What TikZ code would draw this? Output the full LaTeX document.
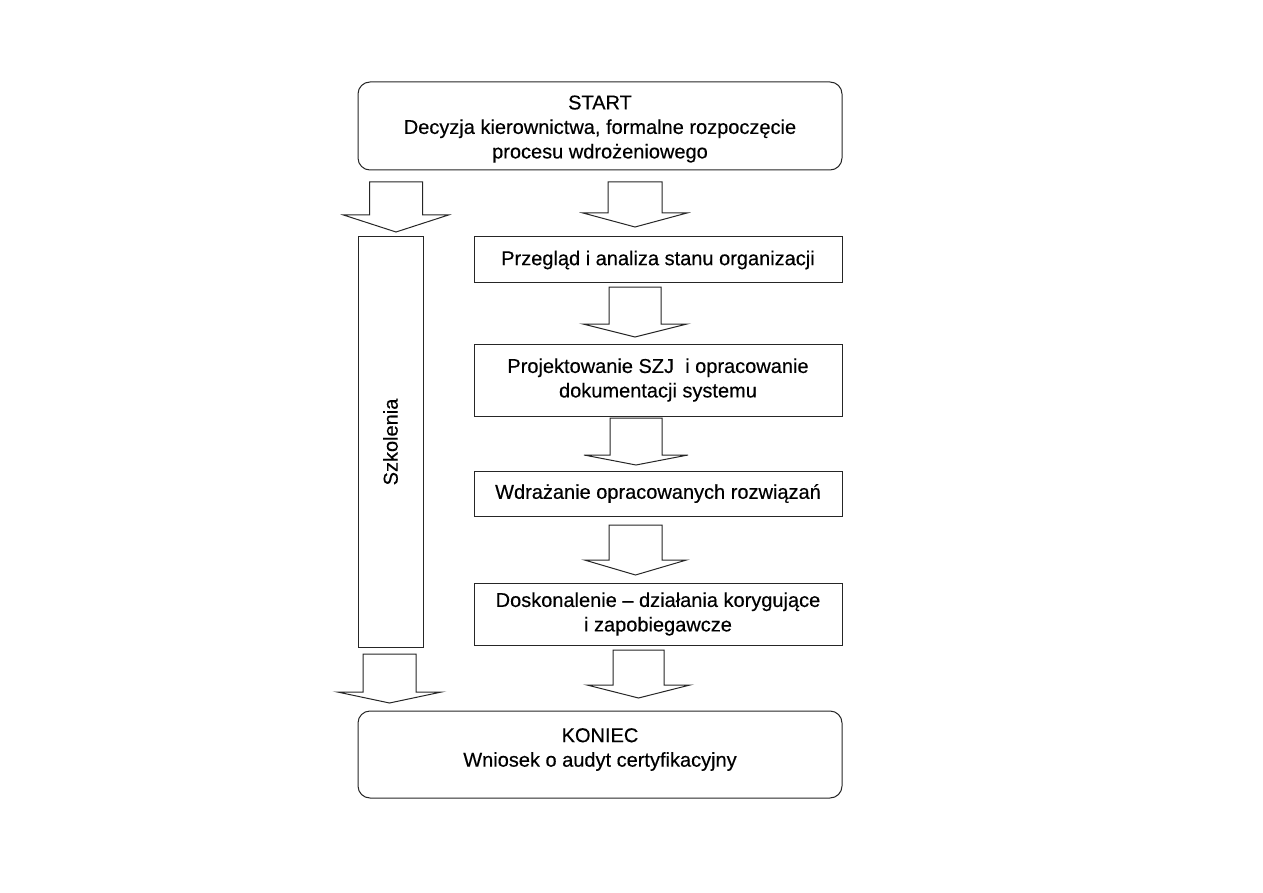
\documentclass[tikz,border=0pt]{standalone}
\usepackage{fontspec}
\setmainfont{Liberation Sans}[FakeBold=0.35, BoldFont=Liberation Sans]
\begin{document}
\begin{tikzpicture}[x=1pt,y=-1pt,
  every node/.style={font=\fontsize{20}{24.5}\selectfont\bfseries, align=center, inner sep=0pt},
  roundbox/.style={draw=black!85, line width=1pt, rounded corners=12pt, minimum width=484pt},
  stepbox/.style={draw=black!85, line width=1pt, minimum width=368pt},
  sidebox/.style={draw=black!85, line width=1pt, minimum width=65pt, minimum height=411pt},
  blockarrow/.style={draw=black!85, line width=1pt, fill=white, line join=miter}]
\useasboundingbox (0,0) rectangle (1263,893);
% boxes
\node[roundbox, minimum height=88pt] (start) at (600,126) {};
\node (starttext) at (600,129) {START\\Decyzja kierownictwa, formalne rozpoczęcie\\procesu wdrożeniowego};
\node[sidebox] (szk) at (390.5,442) {};
\node[rotate=90] (szktext) at (szk.center) {Szkolenia};
\node[stepbox, minimum height=46pt] (prz) at (658,260) {Przegląd i analiza stanu organizacji};
\node[stepbox, minimum height=72pt] (proj) at (658,380) {Projektowanie SZJ\ \ i opracowanie\\dokumentacji systemu};
\node[stepbox, minimum height=45pt] (wdr) at (658,493.5) {Wdrażanie opracowanych rozwiązań};
\node[stepbox, minimum height=62pt] (dosk) at (658,614) {Doskonalenie – działania korygujące\\i zapobiegawcze};
\node[roundbox, minimum height=87pt] (kon) at (600,754.5) {};
\node (kontext) at (600,749.5) {KONIEC\\Wniosek o audyt certyfikacyjny};
% block arrows: #1 centre x, #2 top y, #3 head y, #4 tip y, #5 shaft half width, #6 head half width
\newcommand\blockarr[6]{%
  \draw[blockarrow] (#1-#5,#2) -- (#1+#5,#2) -- (#1+#5,#3) -- (#1+#6,#3) -- (#1,#4)
    -- (#1-#6,#3) -- (#1-#5,#3) -- cycle;}
\blockarr{396}{182}{215}{232}{26.5}{52.5}
\blockarr{635}{182}{213}{227}{27}{52}
\blockarr{635}{287}{324}{337}{26}{52}
\blockarr{636}{418}{455}{465}{26}{52}
\blockarr{635.5}{525}{560}{575}{26.5}{51}
\blockarr{638.5}{650}{685}{698}{25.5}{51.5}
\blockarr{389.5}{654}{692}{703}{26.5}{52}
\end{tikzpicture}
\end{document}
